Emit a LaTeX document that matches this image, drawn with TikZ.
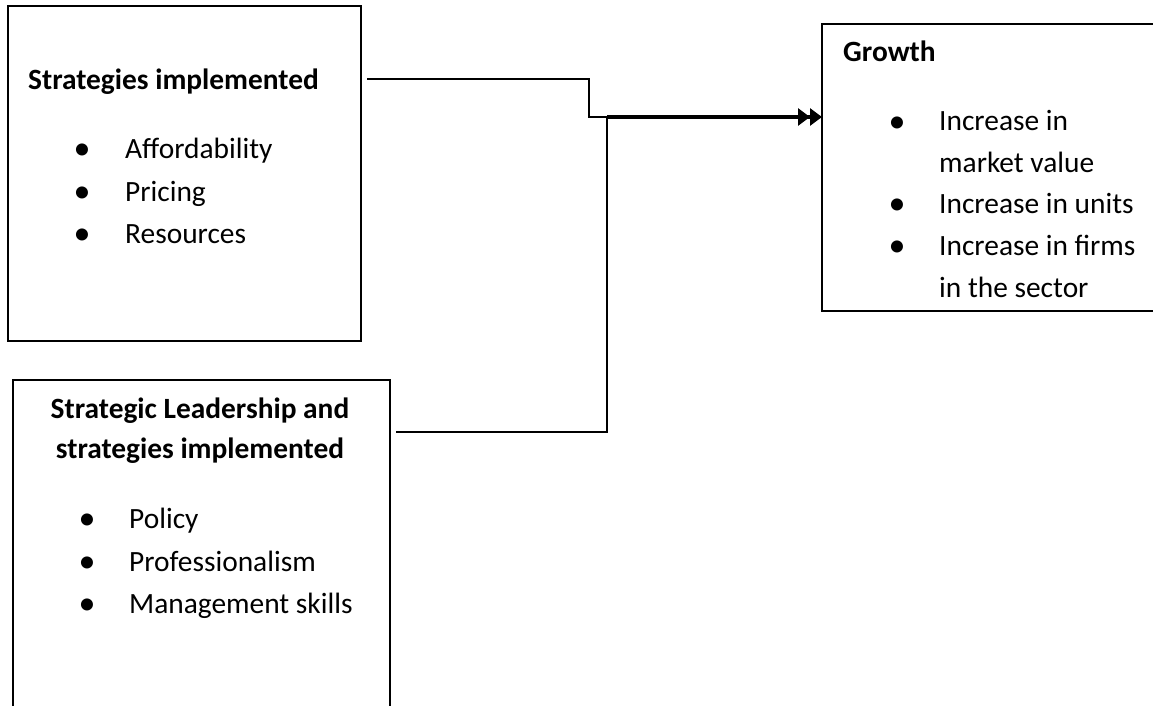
\documentclass[tikz,border=0pt]{standalone}
\usepackage{fontspec}
\setmainfont{Carlito}
\usetikzlibrary{arrows.meta}
\begin{document}
\begin{tikzpicture}[x=1pt,y=-1pt,
 boxstyle/.style={draw=black,line width=2pt,rectangle,inner sep=0pt,anchor=north west},
 txt/.style={anchor=base west,inner sep=0pt,font=\fontsize{29.4}{42}\selectfont},
 head/.style={anchor=base west,inner sep=0pt,font=\fontsize{29.4}{42}\selectfont\bfseries},
 headc/.style={anchor=base,inner sep=0pt,font=\fontsize{29.4}{42}\selectfont\bfseries},
 bul/.style={anchor=base,inner sep=0pt,font=\fontsize{34}{42}\selectfont},
 conn/.style={line width=2pt},
 thickconn/.style={line width=3.4pt}]
\useasboundingbox (0,0) rectangle (1153,706);
\clip (0,0) rectangle (1153,706);
% boxes
\node[boxstyle,minimum width=353pt,minimum height=335pt] (A) at (7,5) {};
\node[boxstyle,minimum width=377pt,minimum height=400pt] (B) at (12,379) {};
\node[boxstyle,minimum width=400pt,minimum height=287pt] (C) at (821,23) {};
% box A text
\node[head] (tA) at (28,90) {Strategies implemented};
\node[bul] (bA1) at (82,159) {\textbullet};
\node[txt] (iA1) at (125,158) {Affordability};
\node[bul] (bA2) at (82,202) {\textbullet};
\node[txt] (iA2) at (125,201) {Pricing};
\node[bul] (bA3) at (82,244) {\textbullet};
\node[txt] (iA3) at (125,243) {Resources};
% box B text
\node[headc] (tB1) at (200,418) {Strategic Leadership and};
\node[headc] (tB2) at (200,458) {strategies implemented};
\node[bul] (bB1) at (87,529) {\textbullet};
\node[txt] (iB1) at (129,528) {Policy};
\node[bul] (bB2) at (87,572) {\textbullet};
\node[txt] (iB2) at (129,571) {Professionalism};
\node[bul] (bB3) at (87,614) {\textbullet};
\node[txt] (iB3) at (129,613) {Management skills};
% box C text
\node[head] (tC) at (843,62) {Growth};
\node[bul] (bC1) at (897,132) {\textbullet};
\node[txt] (iC1) at (939,131) {Increase in};
\node[txt] (iC1b) at (939,172) {market value};
\node[bul] (bC2) at (897,214) {\textbullet};
\node[txt] (iC2) at (939,213) {Increase in units};
\node[bul] (bC3) at (897,256) {\textbullet};
\node[txt] (iC3) at (939,255) {Increase in firms};
\node[txt] (iC3b) at (939,297) {in the sector};
% connectors
\coordinate (a1) at (367,79);
\coordinate (j1) at (589,79);
\coordinate (j2) at (589,117);
\coordinate (j3) at (607,117);
\coordinate (b1) at (396,432);
\coordinate (b2) at (607,432);
\draw[conn] (a1) -- (j1) -- (j2) -- (j3);
\draw[conn] (b1) -- (b2) -- (j3);
\draw[thickconn,shorten >=3pt,-{Triangle[length=12pt,width=17pt]Triangle[length=12pt,width=17pt,sep=-4pt]}] (j3) -- (C.west |- j3);
\end{tikzpicture}
\end{document}
